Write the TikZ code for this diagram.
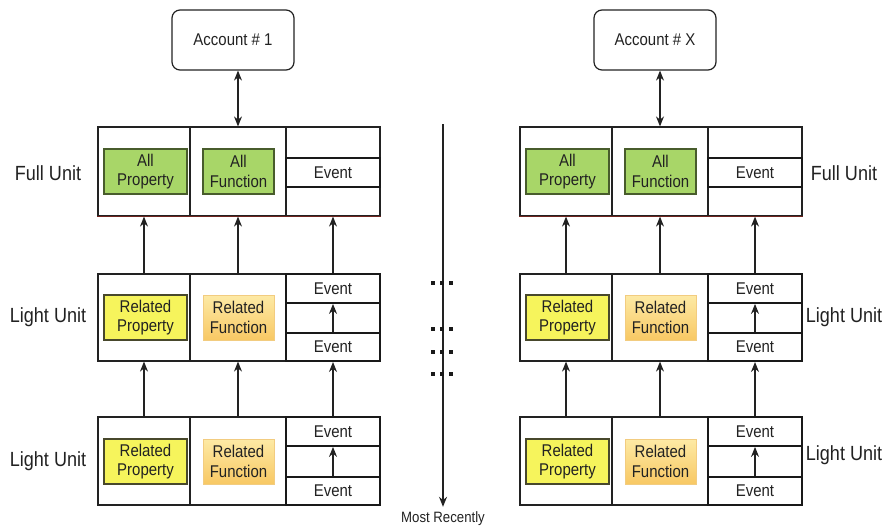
\documentclass[tikz,border=0pt]{standalone}
\usepackage{fontspec}
\setmainfont{Liberation Sans}[FakeStretch=0.88]
\usetikzlibrary{arrows.meta}

\definecolor{fullgreen}{RGB}{168,214,104}
\definecolor{greenedge}{RGB}{72,92,44}
\definecolor{relyellow}{RGB}{246,244,92}
\definecolor{yellowedge}{RGB}{72,72,44}
\definecolor{orgtop}{RGB}{253,234,165}
\definecolor{orgbot}{RGB}{248,200,100}
\definecolor{orgedge}{RGB}{242,204,128}
\definecolor{unitbase}{RGB}{112,36,30}
\definecolor{ink}{RGB}{34,34,34}

\tikzset{
  txt/.style={font=\fontsize{17}{19.5}\selectfont, align=center, text=ink},
  lbl/.style={font=\fontsize{20.5}{22}\selectfont, text=ink},
  cell/.style={draw=ink, line width=1.2pt, inner sep=0pt},
  boldcell/.style={draw=black!90, line width=2pt, inner sep=0pt},
  acct/.style={cell, rounded corners=8pt, txt, minimum width=122pt, minimum height=60pt},
  allbox/.style={draw=greenedge, fill=fullgreen, line width=1.2pt, inner sep=0pt,
    minimum width=83pt, minimum height=45pt, txt},
  relprop/.style={draw=yellowedge, fill=relyellow, line width=1.2pt, inner sep=0pt,
    minimum width=83pt, minimum height=45pt, txt},
  relfunc/.style={draw=orgedge, top color=orgtop, bottom color=orgbot, line width=0.8pt,
    inner sep=0pt, minimum width=71pt, minimum height=45pt, txt},
  evbox/.style={draw=black!90, fill=white, inner sep=0pt, minimum width=94pt, txt},
  link/.style={-{Stealth[length=10pt,width=8pt]}, line width=1.3pt, draw=ink},
  duallink/.style={{Stealth[length=10pt,width=8pt]}-{Stealth[length=10pt,width=8pt]},
    line width=1.3pt, draw=ink}
}

\begin{document}
\begin{tikzpicture}[x=1pt,y=-1pt]
\useasboundingbox (0,0) rectangle (888,527);

\foreach \p/\dx/\accname in {a/0/1,b/422/X}{
\begin{scope}[xshift=\dx pt]
  % account
  \node[acct] (\p-acc) at (233,40) {Account \# \accname};

  % full unit
  \node[cell, minimum width=92pt, minimum height=89pt] (\p-f1) at (144,171.5) {};
  \node[cell, minimum width=96pt, minimum height=89pt] (\p-f2) at (238,171.5) {};
  \node[cell, minimum width=94pt, minimum height=89pt] (\p-f3) at (333,171.5) {};
  \node[allbox] (\p-fp) at (145.5,171.5) {All\\Property};
  \node[allbox, minimum width=71pt] (\p-ff) at (238.5,171.5) {All\\Function};
  \node[evbox, line width=1.2pt, minimum height=29pt] (\p-fe) at (333,172.5) {Event};
  \draw[unitbase, line width=1.5pt] (\p-f1.south west) -- (\p-f3.south east);

  % first light unit
  \node[cell, minimum width=92pt, minimum height=87pt] (\p-m1) at (144,317.5) {};
  \node[cell, minimum width=96pt, minimum height=87pt] (\p-m2) at (238,317.5) {};
  \node[boldcell, minimum width=94pt, minimum height=87pt] (\p-m3) at (333,317.5) {};
  \node[relprop] (\p-mp) at (145.5,317.5) {Related\\Property};
  \node[relfunc] (\p-mf) at (238.5,317.5) {Related\\Function};
  \node[evbox, line width=1.8pt, minimum height=29pt] (\p-me1) at (333,288.5) {Event};
  \node[evbox, line width=1.8pt, minimum height=28pt] (\p-me2) at (333,347) {Event};

  % second light unit
  \node[cell, minimum width=92pt, minimum height=88pt] (\p-b1) at (144,461) {};
  \node[cell, minimum width=96pt, minimum height=88pt] (\p-b2) at (238,461) {};
  \node[boldcell, minimum width=94pt, minimum height=88pt] (\p-b3) at (333,461) {};
  \node[relprop] (\p-bp) at (145.5,461.5) {Related\\Property};
  \node[relfunc] (\p-bf) at (238.5,461.5) {Related\\Function};
  \node[evbox, line width=1.8pt, minimum height=29pt] (\p-be1) at (333,431.5) {Event};
  \node[evbox, line width=1.8pt, minimum height=28pt] (\p-be2) at (333,491) {Event};

  % links
  \draw[duallink] (\p-acc.south -| \p-f2.north) -- (\p-f2.north);
  \draw[link] (\p-m1) -- (\p-f1);
  \draw[link] (\p-m2) -- (\p-f2);
  \draw[link] (\p-m3) -- (\p-f3);
  \draw[link] (\p-b1) -- (\p-m1);
  \draw[link] (\p-b2) -- (\p-m2);
  \draw[link] (\p-b3) -- (\p-m3);
  \draw[link] (\p-me2) -- (\p-me1);
  \draw[link] (\p-be2) -- (\p-be1);
\end{scope}
}

% unit labels
\node[lbl] (la-full) at (48,173) {Full Unit};
\node[lbl] (la-light1) at (48,317) {Light Unit};
\node[lbl] (la-light2) at (48,461) {Light Unit};
\node[lbl] (lb-full) at (844,173) {Full Unit};
\node[lbl] (lb-light1) at (844,317) {Light Unit};
\node[lbl] (lb-light2) at (844,455) {Light Unit};

% timeline
\coordinate (tl-start) at (443,124);
\node[font=\fontsize{15}{16}\selectfont, inner sep=0pt, text=ink] (recent) at (443,519) {Most Recently};
\draw[link] (tl-start) -- ([yshift=5pt]recent.north);

% ellipsis marks
\foreach \yy in {283,329,352,374}
  \foreach \xx in {433,442,451}
    \fill[black!90] (\xx-1.6,\yy-1.6) rectangle ++(3.2,3.2);
\end{tikzpicture}
\end{document}
